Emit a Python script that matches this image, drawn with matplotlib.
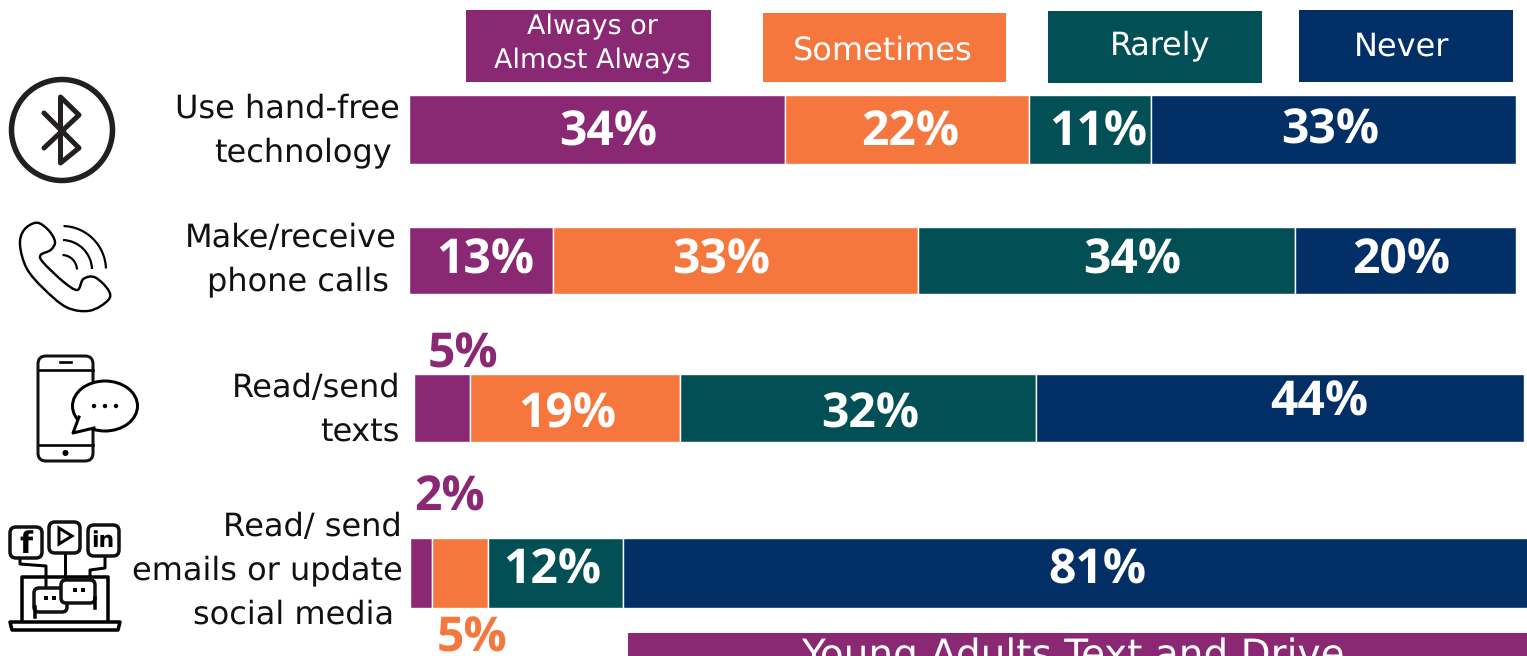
import numpy as np
import matplotlib
matplotlib.use('Agg')
import matplotlib.pyplot as plt
from matplotlib.patches import Circle, Ellipse, FancyBboxPatch, PathPatch, Polygon, Arc, Rectangle
from matplotlib.path import Path

plt.rcParams['text.hinting'] = 'no_hinting'
plt.rcParams['text.hinting_factor'] = 1

W, H = 1527, 656

# data
responses = ['Always or\nAlmost Always', 'Sometimes', 'Rarely', 'Never']
behaviors = [['Use hand-free', 'technology'],
             ['Make/receive', 'phone calls'],
             ['Read/send', 'texts'],
             ['Read/ send', 'emails or update', 'social media']]
always = [34, 13, 5, 2]
sometimes = [22, 33, 19, 5]
rarely = [11, 34, 32, 12]
never = [33, 20, 44, 81]
title = 'Young Adults Text and Drive'

colors = ['#8A2873', '#F5773D', '#025055', '#022F66']
label_font = 'DejaVu Sans'
value_font = 'Open Sans'

# layout, in pixels of the picture
row_boxes = [(409, 1516, 95, 164), (409, 1516, 227, 294), (414, 1524, 374, 442), (410, 1531, 538, 608)]
legend_boxes = [(466, 711, 10, 82), (763, 1006, 13, 82), (1048, 1262, 11, 83), (1299, 1513, 10, 82)]
legend_text_xy = [(592, 44), (883, 51), (1160, 46), (1402, 47)]
value_xy = [[(608, 133), (910, 133), (1098, 133), (1330, 131)],
            [(485, 261), (721, 261), (1132, 261), (1401, 261)],
            [(463, 355), (567, 415), (870, 415), (1319, 403)],
            [(449, 498), (472, 639), (552, 571), (1097, 571)]]
value_color = [['white'] * 4, ['white'] * 4,
               [colors[0], 'white', 'white', 'white'],
               [colors[0], colors[1], 'white', 'white']]
label_right = [[400, 392], [397, 389], [400, 400], [402, 403, 394]]
label_y = [[109, 153], [238, 282], [388, 432], [527, 571, 615]]


def px(v):
    return v * 0.72


def smooth_closed(points):
    # catmull-rom through the points, as bezier segments
    p = np.array(points, float)
    n = len(p)
    verts = [p[0]]
    codes = [Path.MOVETO]
    for i in range(n):
        p0, p1, p2, p3 = p[i - 1], p[i], p[(i + 1) % n], p[(i + 2) % n]
        verts += [p1 + (p2 - p0) / 6, p2 - (p3 - p1) / 6, p2]
        codes += [Path.CURVE4] * 3
    return Path(verts, codes)


def round_box(ax, x0, y0, x1, y1, r, lw, fc='white', ec='#111111', z=3):
    ax.add_patch(FancyBboxPatch((x0 + r, y0 + r), x1 - x0 - 2 * r, y1 - y0 - 2 * r,
                                boxstyle='round,pad=%f,rounding_size=%f' % (r, r),
                                fc=fc, ec=ec, lw=px(lw), zorder=z))


def draw_icons(ax):
    ink = '#231F20'
    # bluetooth
    ax.add_patch(Circle((62, 130), 50.5, fc='none', ec=ink, lw=px(5.5)))
    ax.plot([44, 79, 60.5, 60.5, 79, 44], [113, 148, 163, 97, 115, 148], color=ink, lw=px(5),
            solid_capstyle='round', solid_joinstyle='round')

    # phone call, points from crop coords
    hand = [(110, 488), (72, 510), (60, 555), (80, 625), (130, 685), (200, 742), (270, 752),
            (325, 720), (325, 690), (285, 652), (250, 657), (232, 690), (190, 665), (130, 608),
            (122, 585), (152, 570), (165, 545), (145, 510)]
    hand = [(x / 3, 60 + y / 3) for x, y in hand]
    ax.add_patch(PathPatch(smooth_closed(hand), fc='none', ec='black', lw=px(2.4)))
    for r in (15, 30, 44):
        ax.add_patch(Arc((62, 270), 2 * r, 2 * r, theta1=272, theta2=358, ec='black', lw=px(2.2)))

    # smartphone with speech bubble
    round_box(ax, 38, 356, 93, 461, 8, 3, fc='none')
    ax.plot([38, 93], [370, 370], color='black', lw=px(2.6))
    ax.plot([38, 93], [445, 445], color='black', lw=px(2.6))
    ax.plot([60, 71], [362, 362], color='black', lw=px(2.6))
    ax.add_patch(Circle((65.5, 453), 3, fc='black', ec='none'))
    ax.add_patch(Ellipse((105, 406), 65, 50, fc='white', ec='black', lw=px(3), zorder=4))
    ax.add_patch(Polygon([(80, 415), (73, 433), (95, 428)], fc='white', ec='none', zorder=5))
    ax.plot([79, 73, 94], [417, 433, 428], color='black', lw=px(3), zorder=5)
    for x in (94, 105, 116):
        ax.add_patch(Circle((x, 406), 2.2, fc='black', ec='none', zorder=6))

    # social media on a laptop
    for (x0, x1, y0) in [(10, 42, 527), (49, 80, 522), (88, 119, 525)]:
        round_box(ax, x0, y0, x1, y0 + 31, 6, 3.5)
    ax.text(26, 545, 'f', fontsize=px(30), fontweight='bold', ha='center', va='center',
            family='DejaVu Sans', color='black', zorder=5)
    ax.add_patch(Polygon([(59, 528), (59, 544), (72, 536)], fc='none', ec='black', lw=px(3), zorder=5))
    ax.text(103, 541, 'in', fontsize=px(22), fontweight='bold', ha='center', va='center',
            family='DejaVu Sans', color='black', zorder=5)
    ax.plot([20, 20, 46, 46], [558, 564, 566, 590], color='black', lw=px(3), zorder=2)
    ax.plot([65, 65], [553, 590], color='black', lw=px(3), zorder=2)
    ax.plot([105, 105, 90, 90], [556, 568, 570, 590], color='black', lw=px(3), zorder=2)
    ax.plot([22, 22, 108, 108], [622, 577, 577, 622], color='black', lw=px(3.5), zorder=2,
            solid_joinstyle='round')
    ax.add_patch(Polygon([(10, 622), (120, 622), (118, 630), (12, 630)], closed=True, fc='white', ec='black',
                         lw=px(3.5), joinstyle='round', zorder=3))
    round_box(ax, 34, 588, 67, 612, 5, 3.5, z=3)
    ax.plot([35, 35], [607, 617], color='black', lw=px(3.5), zorder=4)
    round_box(ax, 61, 580, 95, 603, 5, 3.5, z=4)
    ax.plot([95, 95], [598, 608], color='black', lw=px(3.5), zorder=5)
    for x, y in [(46, 598), (54, 598), (75, 590), (83, 590)]:
        ax.add_patch(Rectangle((x - 1.8, y - 1.8), 3.6, 3.6, fc='black', ec='none', zorder=6))


fig = plt.figure(figsize=(W / 100, H / 100), dpi=100)

# stacked bars, one axes per row because the rows do not line up
for i, (x0, x1, y0, y1) in enumerate(row_boxes):
    bar_ax = fig.add_axes([x0 / W, 1 - y1 / H, (x1 - x0) / W, (y1 - y0) / H])
    left = 0
    for vals, c in zip([always, sometimes, rarely, never], colors):
        bar_ax.barh(0, vals[i], left=left, height=1, color=c, edgecolor='white', linewidth=1.0)
        left += vals[i]
    bar_ax.set_xlim(0, sum([always[i], sometimes[i], rarely[i], never[i]]))
    bar_ax.set_ylim(-0.5, 0.5)
    bar_ax.axis('off')

# everything else in picture pixels
ax = fig.add_axes([0, 0, 1, 1], zorder=5)
ax.set_xlim(0, W)
ax.set_ylim(H, 0)
ax.axis('off')
ax.patch.set_alpha(0)

for (x0, x1, y0, y1), c, name, (tx, ty) in zip(legend_boxes, colors, responses, legend_text_xy):
    ax.add_patch(Rectangle((x0, y0), x1 - x0, y1 - y0, fc=c, ec='none'))
    size = 27 if '\n' in name else 32.5
    ax.text(tx, ty, name, color='white', fontsize=px(size), ha='center', va='center',
            family=label_font, linespacing=1.4)

for lines, rights, ys in zip(behaviors, label_right, label_y):
    for line, x, y in zip(lines, rights, ys):
        ax.text(x, y, line, color='#111111', fontsize=px(32), ha='right', va='center', family=label_font)

for i, vals in enumerate(zip(always, sometimes, rarely, never)):
    for v, (x, y), c in zip(vals, value_xy[i], value_color[i]):
        ax.text(x, y, '%d%%' % v, color=c, fontsize=px(48.5), fontweight='bold', ha='center', va='center',
                family=value_font)

ax.add_patch(Rectangle((628, 633), W - 628, H - 633, fc=colors[0], ec='none'))
ax.text(1073, 637, title, color='white', fontsize=px(38.5), ha='center', va='top', family=label_font)

draw_icons(ax)

fig.savefig('out.png', dpi=100)
